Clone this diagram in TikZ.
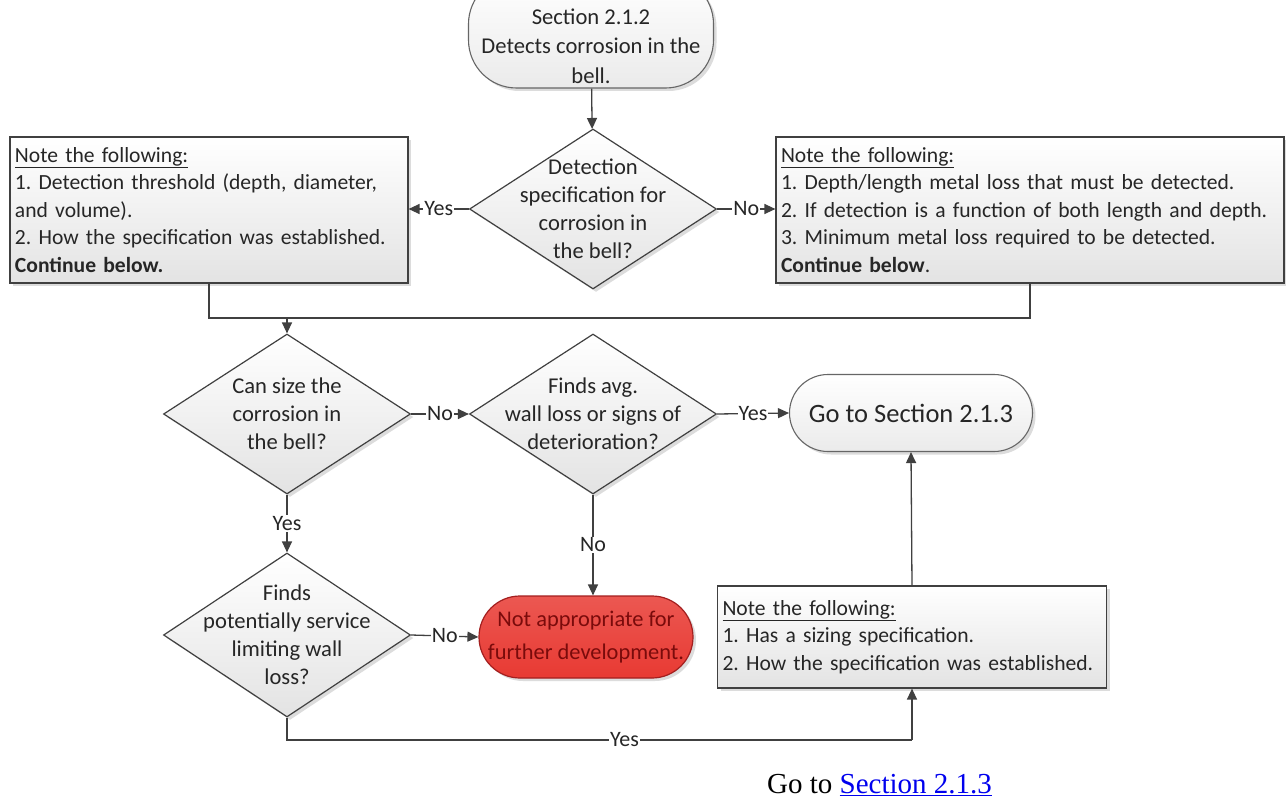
\documentclass[tikz,border=0pt]{standalone}
\usepackage{fontspec}
\setmainfont{Carlito}
\newfontfamily\serifface{Liberation Serif}
\usetikzlibrary{shapes.geometric,shadows,arrows.meta}
\definecolor{ink}{HTML}{404040}
\definecolor{txt}{HTML}{262626}
\definecolor{redfill}{HTML}{E83A33}
\definecolor{redline}{HTML}{A31F1F}
\definecolor{redtext}{HTML}{7A0B0B}
\definecolor{linkblue}{HTML}{0000EE}
\frenchspacing
\tikzset{
  shade box/.style={draw=ink, line width=1.2pt, top color=white, bottom color=black!11,
    drop shadow={shadow xshift=3pt, shadow yshift=-3pt, fill=black!30, opacity=.45}},
  dia/.style={shade box, shape=diamond, minimum width=247, minimum height=160, inner sep=0pt},
  dtext/.style={align=center, text=txt, font=\fontsize{22.6}{28}\selectfont, inner sep=0pt},
  note/.style={shade box, align=left, inner xsep=5pt, inner ysep=0pt, text=txt,
    font=\fontsize{21.6}{27.5}\selectfont},
  pill/.style={draw=ink!80, line width=1.1pt, top color=white, bottom color=black!8,
    drop shadow={shadow xshift=3pt, shadow yshift=-3pt, fill=black!30, opacity=.45},
    align=center, text=txt, inner sep=0pt},
  redpill/.style={draw=redline, line width=1.2pt, top color=redfill!85!white, bottom color=redfill,
    drop shadow={shadow xshift=3pt, shadow yshift=-3pt, fill=black!30, opacity=.45},
    align=center, text=redtext, inner sep=0pt, font=\fontsize{22.4}{33}\selectfont},
  conn/.style={draw=ink, line width=1.3pt},
  arr/.style={conn, -{Triangle[length=11pt,width=10pt]}},
  lab/.style={fill=white, inner sep=1pt, text=txt, font=\fontsize{22}{22}\selectfont},
}
\begin{document}
\begin{tikzpicture}[x=1pt,y=-1pt]
\useasboundingbox (0,0) rectangle (1286,800);
\fill[white] (0,0) rectangle (1286,800);
\clip (0,0) rectangle (1286,800);

% start terminator (its top runs past the upper edge)
\node[pill, minimum width=245, minimum height=112, rounded corners=48] (start) at (591,32) {};
\node[align=center, text=txt, inner sep=0pt, font=\fontsize{22.6}{29.5}\selectfont]
  at (591,46) {Section 2.1.2\\Detects corrosion in the\\bell.};

% first decision and its two notes
\node[dia] (d1) at (593,209) {};
\node[dtext] at (d1) {Detection\\specification for\\corrosion in\\the bell?};

\node[note, text width=388pt, minimum height=146] (ln) at (209,210)
  {\underline{Note the following:}\\
   1. Detection threshold (depth, diameter,\\
   and volume).\\
   2. How the specification was established.\\
   \textbf{Continue below.}};

\node[note, text width=498pt, minimum height=146] (rn) at (1030,210)
  {\underline{Note the following:}\\
   1. Depth/length metal loss that must be detected.\\
   2. If detection is a function of both length and depth.\\
   3. Minimum metal loss required to be detected.\\
   \textbf{Continue below}.};

% second row
\node[dia] (d2) at (287,414) {};
\node[dtext] at (d2) {Can size the\\corrosion in\\the bell?};
\node[dia] (d3) at (593,414) {};
\node[dtext] at (d3) {Finds avg.\\wall loss or signs of\\deterioration?};
\node[pill, minimum width=243, minimum height=77, rounded corners=38.5,
  font=\fontsize{26.5}{30}\selectfont] (go) at (911,413) {Go to Section 2.1.3};

% third row
\node[dia, minimum height=164] (d4) at (287,635) {};
\node[dtext] at (d4) {Finds\\potentially service\\limiting wall\\loss?};
\node[redpill, minimum width=214, minimum height=82, rounded corners=41] (red) at (586,637)
  {Not appropriate for\\further development.};
\node[note, text width=379pt, minimum height=102] (bn) at (912,637)
  {\underline{Note the following:}\\
   1. Has a sizing specification.\\
   2. How the specification was established.\\[2pt]};

% connectors
\draw[arr] (start) -- (d1);
\draw[arr] (d1.west) -- node[lab] {Yes} (d1.west -| ln.east);
\draw[arr] (d1.east) -- node[lab] {No} (d1.east -| rn.west);

\coordinate (merge) at (287,318);
\draw[conn] (ln.south) |- (merge) -| (rn.south);
\draw[arr] (merge) -- (d2.north);

\draw[arr] (d2.east) -- node[lab] {No} (d3.west);
\draw[arr] (d3.east) -- node[lab] {Yes} (go.west);
\draw[arr] (d3.south) -- node[lab] {No} (d3.south |- red.north);
\draw[arr] (d2.south) -- node[lab] {Yes} (d4.north);
\draw[arr] (d4.east) -- node[lab] {No} (red.west);

\coordinate (bend) at (912,740);
\draw[conn] (d4.south) |- node[lab, pos=0.77] {Yes} (bend);
\draw[arr] (bend) -- (bn.south);
\draw[arr] (bn.north) -- (go.south);

% closing link line
\node[anchor=base west, inner sep=0pt, font=\serifface\fontsize{29}{32}\selectfont] (goto) at (767,793)
  {Go to \textcolor{linkblue}{\underline{Section 2.1.3}}};
\end{tikzpicture}
\end{document}
